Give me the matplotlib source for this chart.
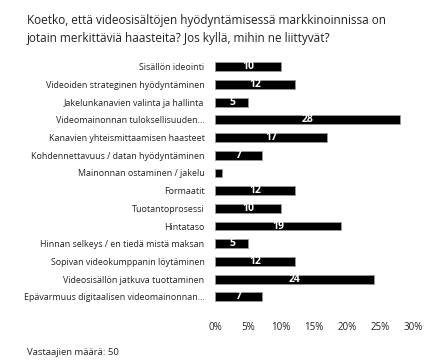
import matplotlib
matplotlib.use('Agg')
import matplotlib.pyplot as plt

categories = [
    "Sisällön ideointi",
    "Videoiden strateginen hyödyntäminen",
    "Jakelunkanavien valinta ja hallinta",
    "Videomainonnan tuloksellisuuden...",
    "Kanavien yhteismittaamisen haasteet",
    "Kohdennettavuus / datan hyödyntäminen",
    "Mainonnan ostaminen / jakelu",
    "Formaatit",
    "Tuotantoprosessi",
    "Hintataso",
    "Hinnan selkeys / en tiedä mistä maksan",
    "Sopivan videokumppanin löytäminen",
    "Videosisällön jatkuva tuottaminen",
    "Epävarmuus digitaalisen videomainonnan...",
]
values = [10, 12, 5, 28, 17, 7, 1, 12, 10, 19, 5, 12, 24, 7]
xticks = [0, 5, 10, 15, 20, 25, 30]
xticklabels = ["0%", "5%", "10%", "15%", "20%", "25%", "30%"]

plt.rcParams['font.family'] = ['Open Sans', 'DejaVu Sans']

fig = plt.figure(figsize=(4.38, 3.6), dpi=100)
ax = fig.add_axes([0.492, 0.151, 0.451, 0.688])

y = list(range(len(categories)))
ax.barh(y, values, height=0.5, color='black', edgecolor='#999999', linewidth=0.6)
for yi, v in zip(y, values):
    if v >= 3:
        ax.text(v / 2, yi, str(v), ha='center', va='center', color='white',
                fontsize=7.5, fontweight='bold')

ax.set_ylim(len(categories) - 0.5, -0.5)
ax.set_xlim(0, 30)
ax.set_yticks(y)
ax.set_yticklabels(categories, fontsize=6.4, color='#222222')
ax.set_xticks(xticks)
ax.set_xticklabels(xticklabels, fontsize=7, color='#222222')
ax.tick_params(axis='both', length=0)
ax.tick_params(axis='x', pad=12)
ax.tick_params(axis='y', pad=8)
for s in ax.spines.values():
    s.set_visible(False)

fig.text(0.061, 0.918, "Koetko, että videosisältöjen hyödyntämisessä markkinoinnissa on\n"
         "jotain merkittäviä haasteita? Jos kyllä, mihin ne liittyvät?",
         fontsize=8.5, color='#222222', va='center', linespacing=1.45)
fig.text(0.061, 0.022, "Vastaajien määrä: 50", fontsize=6.8, color='#222222', va='center')

fig.savefig('out.png', dpi=100)
